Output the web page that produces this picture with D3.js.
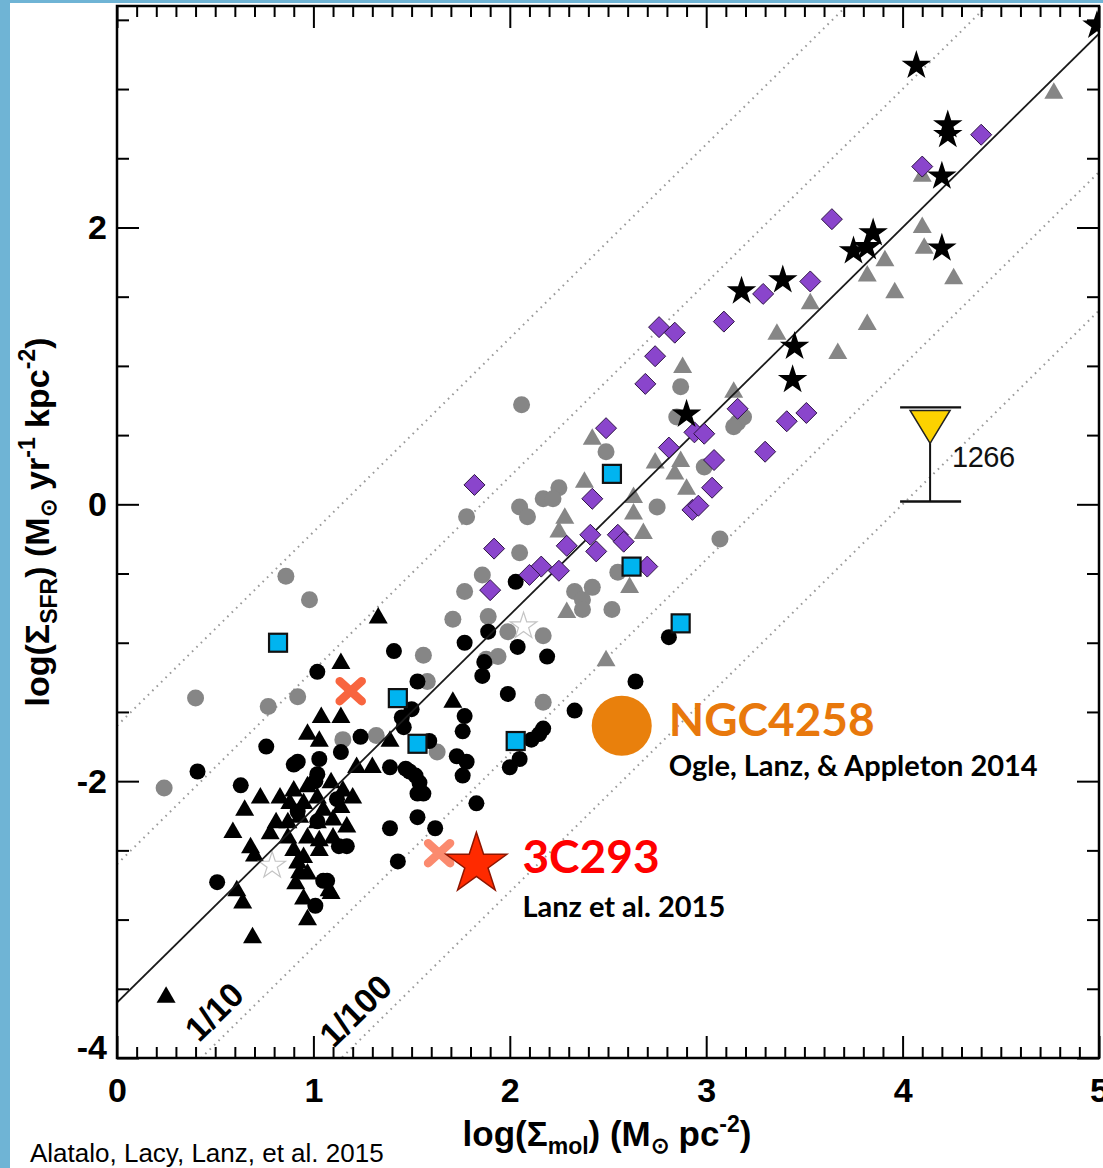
<!DOCTYPE html>
<html>
<head>
<meta charset="utf-8">
<script src="https://cdn.jsdelivr.net/npm/d3@7"></script>
<style>
  html, body { margin: 0; padding: 0; background: #fff; }
  svg { display: block; }
</style>
</head>
<body>
<svg id="chart" width="1103" height="1168"></svg>
<script>
// ---- Data: log(Sigma_mol) [Msun pc^-2], log(Sigma_SFR) [Msun yr^-1 kpc^-2] ----
const greyCircles = [
  [0.86,-0.52],[0.98,-0.69],[1.56,-1.09],[1.58,-1.28],[0.40,-1.40],[0.92,-1.39],[0.77,-1.46],
  [1.15,-1.70],[1.32,-1.67],[1.63,-1.79],[0.24,-2.05],[2.06,0.72],[2.49,0.38],[3.16,0.59],
  [2.99,0.27],[2.25,0.12],[2.17,0.04],[2.22,0.04],[2.75,-0.02],[2.05,-0.02],[2.09,-0.09],
  [1.78,-0.09],[3.07,-0.25],[2.05,-0.35],[1.86,-0.51],[2.55,-0.49],[2.33,-0.63],[2.42,-0.60],
  [2.37,-0.69],[1.77,-0.63],[2.37,-0.76],[2.52,-0.76],[1.71,-0.83],[1.89,-0.81],[2.17,-0.95],
  [1.99,-0.92],[1.88,-1.12],[1.94,-1.10],[2.17,-1.43],[2.87,0.85],[2.85,0.63],[3.19,0.63],
  [3.14,0.56]
];
const greyTriangles = [
  [2.42,0.48],[2.74,0.31],[2.87,0.32],[2.84,0.23],[2.38,0.17],[2.90,0.12],[2.63,0.06],
  [2.63,-0.06],[2.68,-0.20],[2.28,-0.09],[2.25,-0.19],[2.61,-0.59],[2.29,-0.77],[2.49,-1.12],
  [4.10,2.01],[4.11,1.86],[3.91,1.77],[3.82,1.66],[3.96,1.54],[3.82,1.31],[3.67,1.10],
  [3.53,1.46],[3.36,1.24],[2.88,1.00],[3.14,0.82],[4.77,2.98],[4.10,2.38],[4.26,1.64]
];
const blackCircles = [
  [1.41,-1.06],[1.02,-1.21],[1.53,-1.28],[1.45,-1.54],[1.50,-1.48],[1.24,-1.68],[1.59,-1.71],
  [0.76,-1.75],[0.92,-1.86],[1.39,-1.90],[1.47,-1.91],[1.52,-1.96],[0.41,-1.93],[0.63,-2.03],
  [1.53,-2.09],[1.39,-2.34],[1.53,-2.26],[1.62,-2.34],[1.43,-2.58],[1.83,-2.16],[0.51,-2.73],
  [1.05,-2.72],[1.01,-2.90],[1.89,-0.92],[1.77,-1.00],[2.04,-1.03],[2.19,-1.10],[1.87,-1.14],
  [1.86,-1.24],[1.99,-1.37],[2.81,-0.96],[2.64,-1.28],[2.03,-0.56],[2.33,-1.49],[2.15,-1.66],
  [2.17,-1.62],[2.11,-1.70],[2.05,-1.84],[2.00,-1.90],[1.77,-1.53],[1.76,-1.64],[1.73,-1.82],
  [1.78,-1.86],[1.76,-1.96],[1.46,-1.61],[1.03,-1.84],[1.14,-1.79],[0.90,-1.88],[1.02,-1.95],
  [1.01,-2.00],[1.54,-2.01],[1.13,-2.47],[1.17,-2.47],[1.07,-2.72],[1.49,-1.93],[1.56,-2.09],
  [1.12,-2.13],[0.92,-2.22],[1.02,-2.29]
];
const blackTriangles = [
  [1.33,-0.81],[1.14,-1.14],[1.04,-1.53],[1.14,-1.53],[0.97,-1.65],[1.03,-1.70],[1.39,-1.70],
  [1.22,-1.89],[1.30,-1.89],[1.71,-1.42],[0.73,-2.11],[0.65,-2.20],[0.59,-2.36],[0.68,-2.47],
  [0.70,-2.53],[0.61,-2.78],[0.64,-2.87],[0.92,-2.58],[0.93,-2.65],[1.09,-2.80],[0.95,-2.84],
  [0.97,-2.99],[0.69,-3.12],[0.25,-3.55],
  [0.90,-2.06],[0.97,-2.03],[0.88,-2.15],[0.95,-2.15],[1.02,-2.11],[1.09,-2.00],[1.15,-2.06],
  [1.20,-2.11],[1.14,-2.18],[1.05,-2.20],[0.81,-2.29],[0.87,-2.29],[0.93,-2.25],[1.02,-2.29],
  [1.10,-2.27],[1.17,-2.32],[0.78,-2.37],[0.87,-2.40],[0.97,-2.40],[1.03,-2.42],[1.10,-2.40],
  [0.90,-2.49],[0.95,-2.54],[1.03,-2.49],[0.97,-2.66],[1.08,-2.78],[0.91,-2.73],[0.83,-2.11]
];
const purpleDiamonds = [
  [2.49,0.55],[2.94,0.52],[2.99,0.51],[3.16,0.69],[2.81,0.41],[3.04,0.32],[1.82,0.14],
  [2.42,0.04],[3.03,0.12],[2.93,-0.04],[2.96,-0.01],[2.41,-0.22],[2.55,-0.22],[2.58,-0.27],
  [2.29,-0.30],[2.44,-0.34],[1.92,-0.32],[2.16,-0.45],[2.10,-0.51],[2.25,-0.48],[2.70,-0.45],
  [1.90,-0.62],[3.64,2.06],[3.29,1.52],[3.53,1.61],[3.09,1.32],[2.76,1.28],[2.84,1.24],
  [2.74,1.07],[2.69,0.87],[3.41,0.60],[3.51,0.66],[3.30,0.38],[4.10,2.44],[4.40,2.67]
];
const blackStars = [
  [2.90,0.65],[3.75,1.83],[3.85,1.96],[3.82,1.86],[4.20,1.85],[3.18,1.54],[3.39,1.62],
  [3.45,1.14],[3.44,0.90],[4.07,3.17],[4.23,2.74],[4.23,2.67],[4.20,2.37],[4.99,3.46]
];
const openStars = [[2.07,-0.88],[0.79,-2.61]];
const cyanSquares = [
  [0.82,-1.00],[1.43,-1.40],[1.53,-1.73],[2.52,0.22],[2.62,-0.45],[2.87,-0.86],[2.03,-1.71]
];
const crosses = [[1.19,-1.35],[1.64,-2.52]];

// Upper-limit source with its vertical range
const limitSource = { name: "1266", x: 4.14, upper: 0.70, lower: 0.02 };

// Highlighted sources
const ngc4258 = { name: "NGC4258", ref: "Ogle, Lanz, & Appleton 2014", x: 2.57, y: -1.60 };
const c3c293  = { name: "3C293",   ref: "Lanz et al. 2015",            x: 1.83, y: -2.60 };

// Kennicutt-Schmidt relation and its efficiency offsets
const ksSlope = 1.4;
const ksIntercept = -3.6;
const ksOffsets = [2, 1, -1, -2];
const offsetLabels = [{ text: "1/10", offset: -1, at: 0.58 }, { text: "1/100", offset: -2, at: 1.30 }];

// Axis ticks
const xMajor = [0, 1, 2, 3, 4, 5];
const xMinor = d3.range(0, 51).map(i => i / 10).filter(v => Math.abs(v - Math.round(v)) > 1e-9);
const yMajor = [-4, -2, 0, 2];
const yMinor = d3.range(-8, 8).map(i => i / 2).filter(v => !yMajor.includes(v));

// ---- Layout ----
const W = 1103, H = 1168;
const L = 117, R = 1099, T = 6, B = 1058;

const svg = d3.select("#chart");
svg.append("rect").attr("width", W).attr("height", H).attr("fill", "#fff");
svg.append("rect").attr("x", 0).attr("y", 0).attr("width", 10).attr("height", H).attr("fill", "#6fb4d5");
svg.append("rect").attr("x", 0).attr("y", 0).attr("width", W).attr("height", 3).attr("fill", "#6fb4d5");

const x = d3.scaleLinear().domain([0, 5]).range([L, R]);
const y = d3.scaleLinear().domain([-4, 3.6]).range([B, T]);

svg.append("defs").append("clipPath").attr("id", "plotClip")
  .append("rect").attr("x", L).attr("y", T).attr("width", R - L).attr("height", B - T);

const plot = svg.append("g").attr("clip-path", "url(#plotClip)");

// ---- Relation lines ----
const lineGen = d3.line().x(d => x(d[0])).y(d => y(d[1]));
const relation = c => [0, 5].map(v => [v, ksSlope * v + c]);

ksOffsets.forEach(o => {
  plot.append("path")
    .attr("d", lineGen(relation(ksIntercept + o)))
    .attr("fill", "none")
    .attr("stroke", "#9a9a9a")
    .attr("stroke-width", 2)
    .attr("stroke-dasharray", "1.6,4.6");
});

// ---- Marker shapes ----
const triPath = "M0,-9.5L9.5,7L-9.5,7Z";
const diaPath = "M0,-10.5L10.5,0L0,10.5L-10.5,0Z";
const starPath = r => d3.symbol().type(d3.symbolStar).size(r * r / 0.8908130915292852)();

plot.append("g").selectAll("circle").data(greyCircles).join("circle")
  .attr("cx", d => x(d[0])).attr("cy", d => y(d[1])).attr("r", 8.5)
  .attr("fill", "#868686");

plot.append("g").selectAll("path").data(greyTriangles).join("path")
  .attr("d", triPath).attr("transform", d => `translate(${x(d[0])},${y(d[1])})`)
  .attr("fill", "#868686");

plot.append("g").selectAll("circle").data(blackCircles).join("circle")
  .attr("cx", d => x(d[0])).attr("cy", d => y(d[1])).attr("r", 8)
  .attr("fill", "#000");

plot.append("g").selectAll("path").data(blackTriangles).join("path")
  .attr("d", triPath).attr("transform", d => `translate(${x(d[0])},${y(d[1])})`)
  .attr("fill", "#000");

plot.append("g").selectAll("path").data(openStars).join("path")
  .attr("d", starPath(14)).attr("transform", d => `translate(${x(d[0])},${y(d[1])})`)
  .attr("fill", "#fff").attr("stroke", "#c4c4c4").attr("stroke-width", 1.2);

// main relation drawn over the dense black points
plot.append("path")
  .attr("d", lineGen(relation(ksIntercept)))
  .attr("fill", "none").attr("stroke", "#1a1a1a").attr("stroke-width", 1.8);

plot.append("g").selectAll("path").data(purpleDiamonds).join("path")
  .attr("d", diaPath).attr("transform", d => `translate(${x(d[0])},${y(d[1])})`)
  .attr("fill", "#8a45cc").attr("stroke", "#2e1445").attr("stroke-width", 1);

plot.append("g").selectAll("path").data(blackStars).join("path")
  .attr("d", starPath(15.5)).attr("transform", d => `translate(${x(d[0])},${y(d[1])})`)
  .attr("fill", "#000");

plot.append("g").selectAll("rect").data(cyanSquares).join("rect")
  .attr("x", d => x(d[0]) - 9).attr("y", d => y(d[1]) - 9)
  .attr("width", 18).attr("height", 18)
  .attr("fill", "#00b4f0").attr("stroke", "#111").attr("stroke-width", 2.2);

const crossG = plot.append("g").selectAll("g").data(crosses).join("g")
  .attr("transform", d => `translate(${x(d[0])},${y(d[1])})`)
  .attr("stroke", (d, i) => i === 0 ? "#f8653f" : "#fb8a6e")
  .attr("stroke-width", 8.5).attr("stroke-linecap", "round");
crossG.append("line").attr("x1", -11).attr("y1", -10).attr("x2", 11).attr("y2", 10);
crossG.append("line").attr("x1", -11).attr("y1", 10).attr("x2", 11).attr("y2", -10);

// ---- Upper-limit source ----
const lx = x(limitSource.x), ly0 = y(limitSource.upper), ly1 = y(limitSource.lower);
const limG = plot.append("g");
limG.append("line").attr("x1", lx).attr("x2", lx).attr("y1", ly0 + 30).attr("y2", ly1)
  .attr("stroke", "#111").attr("stroke-width", 2);
limG.append("path")
  .attr("d", `M${lx - 20},${ly0 + 3}L${lx + 20},${ly0 + 3}L${lx},${ly0 + 36}Z`)
  .attr("fill", "#fcd200").attr("stroke", "#222").attr("stroke-width", 1.5);
[ly0, ly1].forEach(yy => limG.append("line")
  .attr("x1", lx - 30).attr("x2", lx + 31).attr("y1", yy).attr("y2", yy)
  .attr("stroke", "#111").attr("stroke-width", 2.4));
svg.append("text").attr("x", lx + 22).attr("y", ly0 + 60)
  .attr("font-family", "Liberation Sans, Arial, sans-serif").attr("font-size", 29)
  .attr("letter-spacing", -0.5).attr("fill", "#111").text(limitSource.name);

// ---- Highlighted sources ----
plot.append("circle").attr("cx", x(ngc4258.x)).attr("cy", y(ngc4258.y)).attr("r", 30)
  .attr("fill", "#e9800c");
plot.append("path").attr("d", starPath(32))
  .attr("transform", `translate(${x(c3c293.x)},${y(c3c293.y)})`)
  .attr("fill", "#ff2a00").attr("stroke", "#8e1500").attr("stroke-width", 1.5);

const annFont = "Lato, 'Open Sans', sans-serif";
svg.append("text").attr("x", x(ngc4258.x) + 47).attr("y", y(ngc4258.y) + 10)
  .attr("font-family", annFont).attr("font-weight", 700).attr("font-size", 46)
  .attr("fill", "#e8780c").text(ngc4258.name);
svg.append("text").attr("x", x(ngc4258.x) + 47).attr("y", y(ngc4258.y) + 50)
  .attr("font-family", annFont).attr("font-weight", 700).attr("font-size", 29)
  .attr("fill", "#000").text(ngc4258.ref);
svg.append("text").attr("x", x(c3c293.x) + 46).attr("y", y(c3c293.y) + 9)
  .attr("font-family", annFont).attr("font-weight", 700).attr("font-size", 46)
  .attr("fill", "#ff0000").text(c3c293.name);
svg.append("text").attr("x", x(c3c293.x) + 46).attr("y", y(c3c293.y) + 53)
  .attr("font-family", annFont).attr("font-weight", 700).attr("font-size", 29)
  .attr("fill", "#000").text(c3c293.ref);

// ---- Efficiency labels along the offset lines ----
const angle = Math.atan2(y(ksSlope) - y(0), x(1) - x(0)) * 180 / Math.PI;
offsetLabels.forEach(l => {
  const px = x(l.at), py = y(ksSlope * l.at + ksIntercept + l.offset);
  svg.append("text")
    .attr("transform", `translate(${px},${py}) rotate(${angle})`)
    .attr("dy", -12).attr("text-anchor", "middle")
    .attr("font-family", "Liberation Sans, Arial, sans-serif").attr("font-weight", 700)
    .attr("font-size", 34).attr("fill", "#000").text(l.text);
});

// ---- Frame and axes ----
const axisFont = "Liberation Sans, Arial, Helvetica, sans-serif";
function styleAxis(g) {
  g.select(".domain").remove();
  g.selectAll("line").attr("stroke", "#000").attr("stroke-width", 2);
  g.selectAll("text").attr("font-family", axisFont).attr("font-weight", 700)
    .attr("font-size", 34).attr("fill", "#000");
}
const noLabel = () => "";
const plainInt = d => String(d);

svg.append("g").attr("transform", `translate(0,${B})`)
  .call(d3.axisBottom(x).tickValues(xMinor).tickSize(-11).tickFormat(noLabel)).call(styleAxis);
svg.append("g").attr("transform", `translate(0,${B})`)
  .call(d3.axisBottom(x).tickValues(xMajor).tickSize(-22).tickPadding(20).tickFormat(plainInt)).call(styleAxis);
svg.append("g").attr("transform", `translate(0,${T})`)
  .call(d3.axisTop(x).tickValues(xMinor).tickSize(-11).tickFormat(noLabel)).call(styleAxis);
svg.append("g").attr("transform", `translate(0,${T})`)
  .call(d3.axisTop(x).tickValues(xMajor).tickSize(-22).tickFormat(noLabel)).call(styleAxis);

svg.append("g").attr("transform", `translate(${L},0)`)
  .call(d3.axisLeft(y).tickValues(yMinor).tickSize(-12).tickFormat(noLabel)).call(styleAxis);
const yAxisMajor = svg.append("g").attr("transform", `translate(${L},0)`)
  .call(d3.axisLeft(y).tickValues(yMajor).tickSize(-22).tickPadding(10).tickFormat(plainInt)).call(styleAxis);
// lift the lowest label clear of the x-axis numbers
yAxisMajor.selectAll(".tick text").filter(d => d === -4).attr("dy", "0.02em");
svg.append("g").attr("transform", `translate(${R},0)`)
  .call(d3.axisRight(y).tickValues(yMinor).tickSize(-12).tickFormat(noLabel)).call(styleAxis);
svg.append("g").attr("transform", `translate(${R},0)`)
  .call(d3.axisRight(y).tickValues(yMajor).tickSize(-22).tickFormat(noLabel)).call(styleAxis);

svg.append("rect").attr("x", L).attr("y", T).attr("width", R - L).attr("height", B - T)
  .attr("fill", "none").attr("stroke", "#000").attr("stroke-width", 2.5);

// ---- Axis titles ----
const xt = svg.append("text").attr("x", 607).attr("y", 1146).attr("text-anchor", "middle")
  .attr("font-family", axisFont).attr("font-weight", 700).attr("font-size", 35).attr("fill", "#000");
xt.append("tspan").text("log(Σ");
xt.append("tspan").attr("font-size", 23).attr("dy", 8).text("mol");
xt.append("tspan").attr("dy", -8).text(") (M");
xt.append("tspan").attr("font-size", 22).attr("dy", 7).text("⊙");
xt.append("tspan").attr("dy", -7).text(" pc");
xt.append("tspan").attr("font-size", 23).attr("dy", -14).text("-2");
xt.append("tspan").attr("dy", 14).text(")");

const yt = svg.append("text").attr("transform", "translate(49,522) rotate(-90)")
  .attr("text-anchor", "middle")
  .attr("font-family", axisFont).attr("font-weight", 700).attr("font-size", 34).attr("fill", "#000");
yt.append("tspan").text("log(Σ");
yt.append("tspan").attr("font-size", 23).attr("dy", 8).text("SFR");
yt.append("tspan").attr("dy", -8).text(") (M");
yt.append("tspan").attr("font-size", 22).attr("dy", 7).text("⊙");
yt.append("tspan").attr("dy", -7).text(" yr");
yt.append("tspan").attr("font-size", 23).attr("dy", -14).text("-1");
yt.append("tspan").attr("dy", 14).text(" kpc");
yt.append("tspan").attr("font-size", 23).attr("dy", -14).text("-2");
yt.append("tspan").attr("dy", 14).text(")");

// ---- Citation ----
svg.append("text").attr("x", 30).attr("y", 1162)
  .attr("font-family", axisFont).attr("font-size", 26).attr("fill", "#000")
  .text("Alatalo, Lacy, Lanz, et al. 2015");
</script>
</body>
</html>
